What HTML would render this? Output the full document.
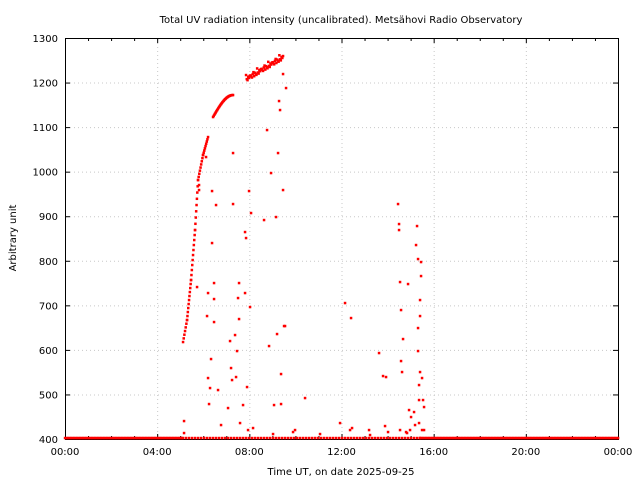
<!DOCTYPE html>
<html><head><meta charset="utf-8"><style>
body{margin:0;background:#fff;}
svg{display:block;font-family:"DejaVu Sans","Liberation Sans",sans-serif;}
</style></head><body>
<svg id="s" width="640" height="480" xmlns="http://www.w3.org/2000/svg">
<rect width="640" height="480" fill="#fff"/>
<text x="341" y="23" font-size="10" text-anchor="middle">Total UV radiation intensity (uncalibrated). Metsähovi Radio Observatory</text>
<g id="grid" stroke="#c8c8c8" stroke-width="1" stroke-dasharray="1,3"></g>
<g id="ax" stroke="#000" stroke-width="1" fill="none"><rect x="65.5" y="38.5" width="553" height="401"/></g>
<g id="lab" font-size="10" fill="#000"></g>
<text x="341" y="475" font-size="10" text-anchor="middle">Time UT, on date 2025-09-25</text>
<text transform="translate(16,238) rotate(-90)" font-size="10" text-anchor="middle">Arbitrary unit</text>
<g id="pts" fill="#f00"></g>
</svg>
<script>
var NS="http://www.w3.org/2000/svg";
function el(p,t,a,txt){var e=document.createElementNS(NS,t);for(var k in a)e.setAttribute(k,a[k]);if(txt)e.textContent=txt;document.getElementById(p).appendChild(e);}
var X0=65,X1=618,Y0=439,Y1=38;
function X(h){return X0+h*(X1-X0)/24;}
function Y(v){return Y0-(v-400)*(Y0-Y1)/900;}
for(var v=500;v<1300;v+=100){el("grid","line",{x1:66,x2:618,y1:Y(v)+.5,y2:Y(v)+.5});}
for(var h=4;h<24;h+=4){el("grid","line",{x1:X(h)+.5,x2:X(h)+.5,y1:39,y2:439});}
for(var v=400;v<=1300;v+=100){var y=Y(v)+.5;el("ax","line",{x1:65,x2:70,y1:y,y2:y});el("ax","line",{x1:613,x2:618,y1:y,y2:y});
 el("lab","text",{x:58,y:Y(v)+4,"text-anchor":"end"},String(v));}
for(var h=0;h<=24;h++){var x=X(h)+.5,L=(h%4==0)?5:3;el("ax","line",{x1:x,x2:x,y1:439,y2:439-L});el("ax","line",{x1:x,x2:x,y1:38,y2:38+L});
 if(h%4==0){var hh=h%24;var s=(hh<10?"0":"")+hh+":00";el("lab","text",{x:X(h),y:455,"text-anchor":"middle"},s);}}
function P(x,y){el("pts","rect",{x:x-1.2,y:y-1.2,width:2.5,height:2.5});}
for(var x=65;x<=183;x+=1.5)P(x,438);
for(var x=420;x<=618;x+=1.5)P(x,438);
for(var x=183;x<=420;x+=3)P(x,438);
function seg(xa,ya,xb,yb,n){for(var i=0;i<=n;i++){var t=i/n;P(xa+(xb-xa)*t,ya+(yb-ya)*t);}}
seg(183,342,187,320,6);seg(187,320,191,280,10);seg(191,280,195,230,10);seg(195,230,198,180,8);seg(198,180,203,155,8);seg(203,155,208,137,8);
for(var i=0;i<=30;i++){var t=i/30;P(213+20*t,117-22*Math.sin(t*1.57));}
for(var i=0;i<=50;i++){var t=i/50;P(246+37*t,78-22*t+(i%3)*1.5-(i%5==0?3:0));}
var sc=[[184,421],[184,433],[197,287],[199,185],[199,190],[206,157],[207,316],[208,293],[208,378],[209,404],[210,388],[211,359],[212,243],[212,191],[214,283],[214,299],[214,322],[216,205],[218,390],[221,425],[228,408],[230,341],[231,368],[232,380],[233,153],[233,204],[235,335],[236,377],[237,351],[238,298],[239,319],[239,283],[240,423],[243,405],[245,232],[245,293],[246,238],[247,387],[248,430],[249,191],[250,307],[251,213],[253,428],[264,220],[267,130],[269,346],[271,173],[273,434],[274,405],[276,217],[277,334],[278,153],[279,101],[280,110],[281,374],[281,404],[283,190],[284,326],[285,326],[283,74],[286,88],[293,432],[295,430],[305,398],[320,434],[340,423],[345,303],[351,318],[350,430],[352,428],[369,430],[379,353],[383,376],[386,377],[385,426],[398,204],[399,224],[399,230],[400,282],[401,310],[401,361],[402,372],[403,339],[406,432],[407,433],[408,284],[409,410],[411,417],[414,412],[415,425],[416,245],[417,226],[418,259],[418,328],[418,351],[419,385],[419,400],[419,423],[420,372],[420,316],[420,300],[421,262],[421,276],[422,378],[423,400],[424,407],[424,430],[422,430],[410,430],[400,430],[388,432],[370,435]];
sc.forEach(function(p){P(p[0],p[1]);});
</script>
</body></html>
